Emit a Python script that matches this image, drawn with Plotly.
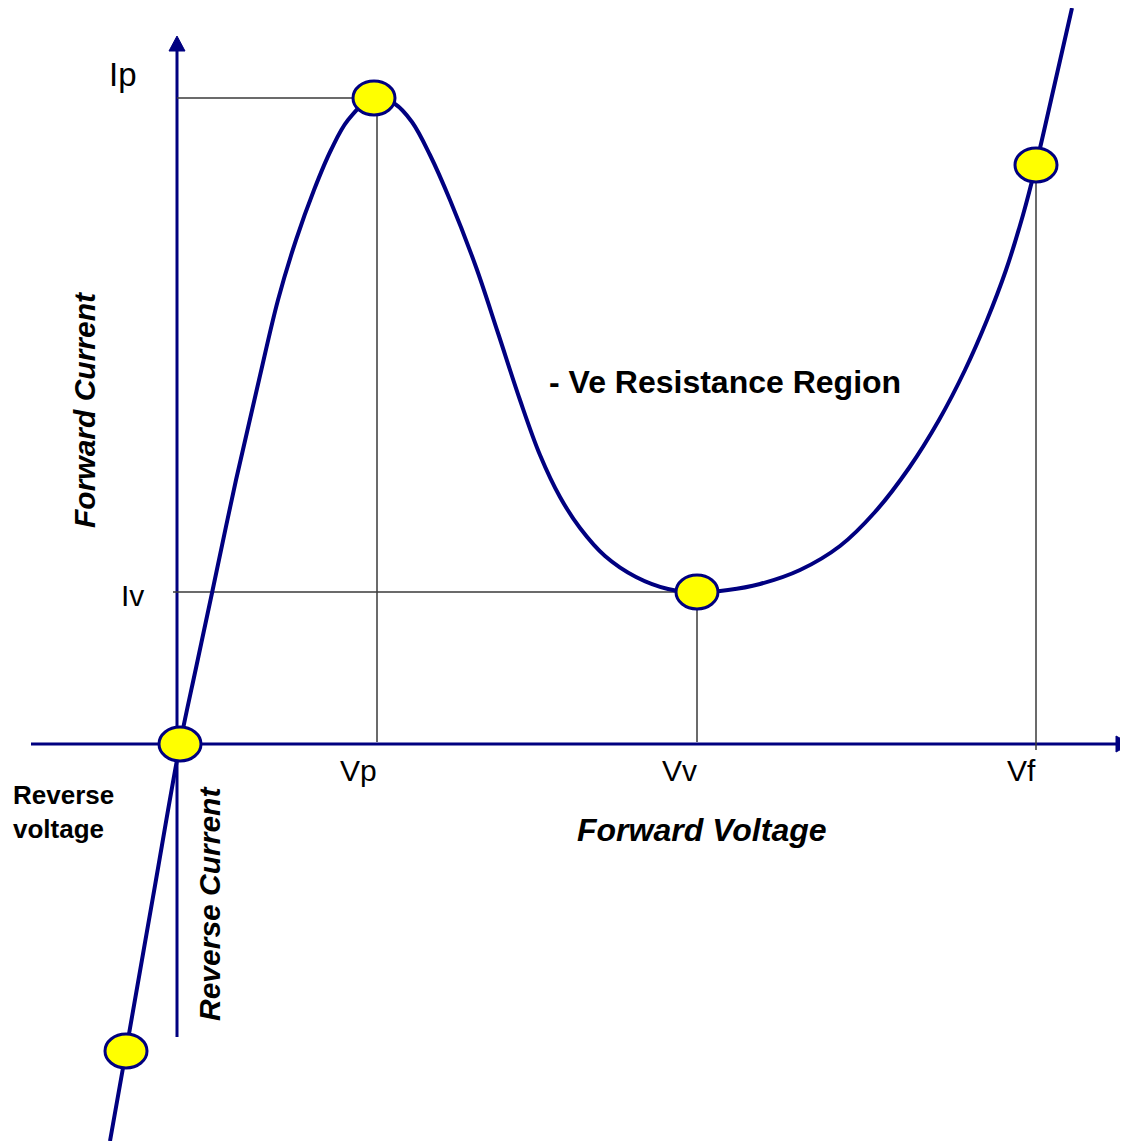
import plotly.graph_objects as go

# ---------------- data (arbitrary units: voltage V, current I) ----------------
curve_V = [-0.67, -0.51, -0.24, 0.03, 0.19, 0.35, 0.59, 0.82, 1.01, 1.19, 1.37, 1.54, 1.71,
           1.97, 2.18, 2.35, 2.53, 2.73, 2.99, 3.21, 3.43, 3.63, 3.83, 4.03, 4.28, 4.59,
           4.91, 5.20, 5.51, 5.83, 6.23, 6.63, 6.98, 7.32, 7.62, 7.88, 8.10, 8.29, 8.46,
           8.59, 8.77, 8.95]
curve_I = [-3.97, -3.07, -1.53, 0.00, 0.76, 1.51, 2.64, 3.64, 4.44, 5.04, 5.54, 5.94, 6.24,
           6.47, 6.40, 6.22, 5.89, 5.44, 4.77, 4.11, 3.44, 2.89, 2.47, 2.16, 1.88, 1.67,
           1.55, 1.52, 1.54, 1.60, 1.74, 1.98, 2.32, 2.76, 3.24, 3.74, 4.24, 4.74, 5.29,
           5.79, 6.57, 7.36]

point_names = ["reverse", "origin", "peak", "valley", "forward"]
point_V = [-0.51, 0.03, 1.97, 5.20, 8.59]
point_I = [-3.07, 0.00, 6.46, 1.52, 5.79]

Vp, Ip = 2.00, 6.46
Vv, Iv = 5.20, 1.52
Vf, If_ = 8.59, 5.79

voltage_labels = ["Vp", "Vv", "Vf"]
voltage_values = [Vp, Vv, Vf]
current_labels = ["Ip", "Iv"]
current_values = [Ip, Iv]

# ---------------- layout constants ----------------
W, H = 1128, 1141
BODY = 8  # page margin around the plot div (px)
SX = 0.01  # data units per pixel
SY = 0.01
X_RANGE = [-1.77 + BODY * SX, -1.77 + BODY * SX + W * SX]
Y_RANGE = [7.44 - BODY * SY - H * SY, 7.44 - BODY * SY]

NAVY = "#000080"
GRAY = "#3a3a3a"
YELLOW = "#ffff00"
FONT = "Arial, 'Liberation Sans', sans-serif"

X_AXIS_START, X_AXIS_END = -1.46, 9.41
Y_AXIS_BOTTOM, Y_AXIS_TOP = -2.93, 6.94

fig = go.Figure()

fig.add_trace(go.Scatter(
    x=curve_V, y=curve_I, mode="lines",
    line=dict(color=NAVY, width=4, shape="spline", smoothing=1.0),
    hoverinfo="skip", showlegend=False))

shapes = []
# axes
shapes.append(dict(type="line", xref="x", yref="y", x0=X_AXIS_START, y0=0, x1=X_AXIS_END, y1=0,
                   line=dict(color=NAVY, width=3), layer="below"))
shapes.append(dict(type="line", xref="x", yref="y", x0=0, y0=Y_AXIS_BOTTOM, x1=0, y1=Y_AXIS_TOP,
                   line=dict(color=NAVY, width=3), layer="below"))
# arrowheads
ax_b = X_AXIS_END - 2 * SX
shapes.append(dict(type="path", xref="x", yref="y",
                   path=f"M {ax_b},{8*SY} L {ax_b + 15*SX},0 L {ax_b},{-8*SY} Z",
                   fillcolor=NAVY, line=dict(color=NAVY, width=1), layer="below"))
ay_b = Y_AXIS_TOP - 1 * SY
shapes.append(dict(type="path", xref="x", yref="y",
                   path=f"M {-8*SX},{ay_b} L 0,{ay_b + 15*SY} L {8*SX},{ay_b} Z",
                   fillcolor=NAVY, line=dict(color=NAVY, width=1), layer="below"))

# guide lines
def gline(x0, y0, x1, y1):
    shapes.append(dict(type="line", xref="x", yref="y", x0=x0, y0=y0, x1=x1, y1=y1,
                       line=dict(color=GRAY, width=1.5), layer="below"))

gline(0, Ip, Vp, Ip)
gline(Vp, Ip, Vp, 2 * SY)
gline(-4 * SX, Iv, Vv, Iv)
gline(Vv, Iv, Vv, 2 * SY)
gline(Vf, If_, Vf, -6 * SY)

# elliptical markers
for v, i in zip(point_V, point_I):
    shapes.append(dict(type="circle", xref="x", yref="y",
                       x0=v - 21 * SX, x1=v + 21 * SX, y0=i - 17 * SY, y1=i + 17 * SY,
                       fillcolor=YELLOW, line=dict(color=NAVY, width=3), layer="above"))

annotations = []
def txt(text, x, y, size, xanchor="center", yanchor="middle", bold=False, italic=False,
        angle=0, align="left"):
    annotations.append(dict(
        text=text, x=x, y=y, xref="x", yref="y", showarrow=False,
        xanchor=xanchor, yanchor=yanchor, textangle=angle, align=align,
        font=dict(family=FONT, size=size, color="black",
                  weight="bold" if bold else "normal",
                  style="italic" if italic else "normal")))

# current labels
txt(current_labels[0], -38 * SX, current_values[0] + 24 * SY, 33, xanchor="right")
txt(current_labels[1], -31 * SX, current_values[1] - 3 * SY, 30, xanchor="right")
# voltage labels
for lab, v in zip(voltage_labels, voltage_values):
    txt(lab, v + 2 * SX, -26 * SY, 30, xanchor="right")

txt("- Ve Resistance Region", 3.70, 3.62, 32, xanchor="left", bold=True)
txt("Forward Voltage", 5.25, -0.86, 32, bold=True, italic=True)
txt("Forward Current", -0.93, 3.34, 30, bold=True, italic=True, angle=-90)
txt("Reverse Current", 0.32, -1.60, 30, bold=True, italic=True, angle=-90)
txt("Reverse<br>voltage", -1.66, -0.68, 26, xanchor="left", bold=True)

fig.update_layout(
    width=W, height=H,
    margin=dict(l=0, r=0, t=0, b=0),
    paper_bgcolor="white", plot_bgcolor="white",
    xaxis=dict(range=X_RANGE, visible=False, fixedrange=True),
    yaxis=dict(range=Y_RANGE, visible=False, fixedrange=True),
    shapes=shapes, annotations=annotations,
    showlegend=False,
)

fig.write_html("out.html")
